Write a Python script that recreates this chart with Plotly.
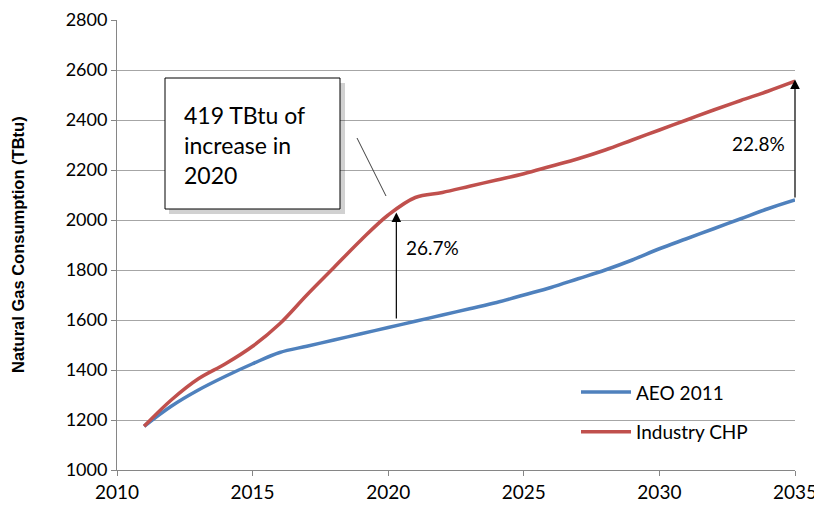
import plotly.graph_objects as go

years = list(range(2011, 2036))
aeo_2011 = [1175, 1255, 1320, 1375, 1425, 1470, 1495, 1520, 1545, 1570,
            1595, 1620, 1645, 1670, 1700, 1730, 1765, 1800, 1840, 1885,
            1925, 1965, 2005, 2045, 2080]
industry_chp = [1175, 1280, 1365, 1425, 1495, 1585, 1700, 1810, 1920, 2020,
                2090, 2110, 2135, 2160, 2185, 2215, 2245, 2280, 2320, 2360,
                2400, 2440, 2478, 2515, 2555]

FONT = "Lato, Open Sans, Arial"

fig = go.Figure()
fig.add_trace(go.Scatter(x=years, y=aeo_2011, name="AEO 2011", mode="lines",
                         legendgroup="a",
                         line=dict(color="#4F81BD", width=3.5, shape="spline")))
fig.add_trace(go.Scatter(x=years, y=industry_chp, name="Industry CHP", mode="lines",
                         legendgroup="b",
                         line=dict(color="#C0504D", width=3.5, shape="spline")))

# page body has an 8px margin, so the figure is 8px smaller and margins shifted
fig.update_layout(
    width=814, height=506,
    margin=dict(l=109, r=27, t=12, b=44),
    paper_bgcolor="white", plot_bgcolor="white",
    font=dict(family=FONT, size=18, color="black"),
    xaxis=dict(range=[2010, 2035], tick0=2010, dtick=5, showgrid=False,
               showline=True, linecolor="#868686", linewidth=1,
               ticks="outside", ticklen=5, tickcolor="#868686",
               zeroline=False, tickfont=dict(size=19), automargin=False),
    yaxis=dict(range=[1000, 2800], dtick=200, showgrid=True,
               gridcolor="#A6A6A6", gridwidth=1,
               showline=True, linecolor="#868686", linewidth=1,
               ticks="outside", ticklen=5, tickcolor="#868686",
               zeroline=False, tickfont=dict(size=18), automargin=False),
    legend=dict(x=0.677, y=0.215, xanchor="left", yanchor="top",
                bgcolor="rgba(0,0,0,0)", font=dict(size=19),
                tracegroupgap=12, itemwidth=50),
    showlegend=True,
)

W = 678  # plot width in px
H = 450  # plot height in px

# y-axis title
fig.add_annotation(xref="paper", yref="paper", x=(18 - 117) / W, y=0.5,
                   text="<b>Natural Gas Consumption (TBtu)</b>", textangle=-90,
                   font=dict(family="Arial", size=16.5), showarrow=False,
                   xanchor="center", yanchor="middle")

# callout box with shadow
fig.add_shape(type="rect", xref="paper", yref="paper",
              x0=(169 - 117) / W, x1=(345 - 117) / W,
              y0=(470 - 214) / H, y1=(470 - 83) / H,
              line=dict(width=0), fillcolor="rgba(0,0,0,0.18)", layer="above")
fig.add_shape(type="rect", xref="paper", yref="paper",
              x0=(165 - 117) / W, x1=(340 - 117) / W,
              y0=(470 - 209) / H, y1=(470 - 78) / H,
              line=dict(color="black", width=1), fillcolor="white", layer="above")
fig.add_annotation(xref="paper", yref="paper",
                   x=(182 - 117) / W, y=(470 - 145) / H,
                   xanchor="left", yanchor="middle", align="left",
                   text="419 TBtu of<br>increase in<br>2020",
                   font=dict(size=23), showarrow=False)
# callout leader line
fig.add_shape(type="line", xref="paper", yref="paper",
              x0=(357 - 117) / W, y0=(470 - 138) / H,
              x1=(386 - 117) / W, y1=(470 - 196) / H,
              line=dict(color="#404040", width=1))

# difference arrows
arrows = [(2020.3, 1600, 2030, "26.7%", 2020.6, 1890, "left"),
          (2035, 2084, 2562, "22.8%", 2034.7, 2305, "right")]
for xa, y0, y1, lab, xl, yl, anc in arrows:
    fig.add_annotation(x=xa, y=y1, ax=xa, ay=y0, xref="x", yref="y",
                       axref="x", ayref="y", showarrow=True, text="",
                       arrowhead=2, arrowsize=1.6, arrowwidth=1.2,
                       arrowcolor="black")
    fig.add_annotation(x=xl, y=yl, xref="x", yref="y", text=lab,
                       xanchor=anc, showarrow=False, font=dict(size=19))

fig.write_html("out.html")
